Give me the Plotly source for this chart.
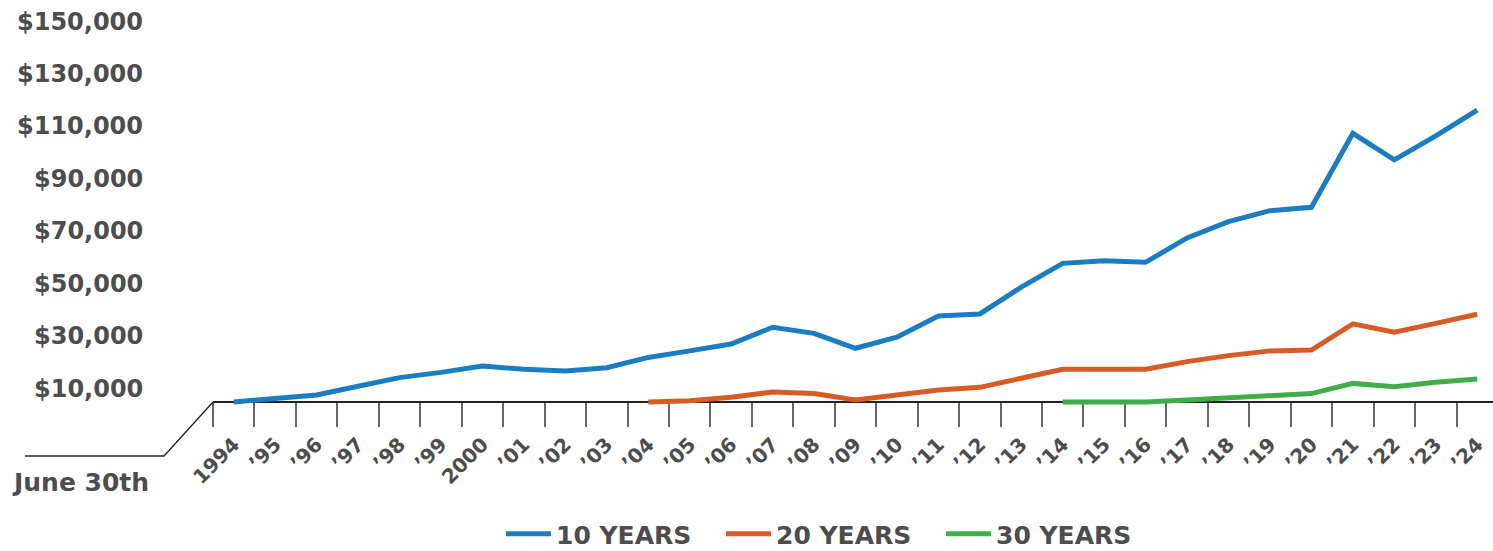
import plotly.graph_objects as go

# ---- data ----
years = ["1994", "’95", "’96", "’97", "’98", "’99", "2000", "’01", "’02", "’03",
         "’04", "’05", "’06", "’07", "’08", "’09", "’10", "’11", "’12", "’13",
         "’14", "’15", "’16", "’17", "’18", "’19", "’20", "’21", "’22", "’23", "’24"]

ten_years = [10000, 11300, 12700, 16000, 19300, 21300, 23700, 22500, 21800, 23100,
             27000, 29500, 32100, 38500, 36200, 30500, 34700, 42800, 43600, 53800,
             62900, 63900, 63300, 72600, 78800, 83000, 84300, 112500, 102400, 111500, 121400]

twenty_years = [10000, 10500, 11800, 13800, 13200, 10800, 12700, 14600, 15600, 19200,
                22500, 22500, 22500, 25400, 27700, 29500, 29800, 39800, 36600, 40000, 43500]

thirty_years = [10000, 10000, 10000, 10800, 11600, 12400, 13200, 17100, 15800, 17500, 18800]

series_names = ["10 YEARS", "20 YEARS", "30 YEARS"]
series_colors = ["#1a7cc1", "#d85a25", "#40ad49"]

y_tick_vals = [10000, 30000, 50000, 70000, 90000, 110000, 130000, 150000]
y_tick_text = ["$10,000", "$30,000", "$50,000", "$70,000", "$90,000", "$110,000", "$130,000", "$150,000"]

x_caption = "June 30th"

FONT = "DejaVu Sans"
TEXT = "#4d4d4d"

fig = go.Figure()
fig.add_trace(go.Scatter(x=years, y=ten_years, mode="lines", name=series_names[0],
                         line=dict(color=series_colors[0], width=5)))
fig.add_trace(go.Scatter(x=years[10:], y=twenty_years, mode="lines", name=series_names[1],
                         line=dict(color=series_colors[1], width=5)))
fig.add_trace(go.Scatter(x=years[20:], y=thirty_years, mode="lines", name=series_names[2],
                         line=dict(color=series_colors[2], width=5)))

W, H = 1493, 551
L = 213
plot_bottom_px = 440
axis_px = 402
px_per_unit = 2.621 / 1000.0
y_top = 10000 + axis_px / px_per_unit
y_bot = 10000 - (plot_bottom_px - axis_px) / px_per_unit
cat_px = 41.45

fig.update_layout(
    width=W, height=H, autosize=False,
    margin=dict(l=L, r=0, t=0, b=0, autoexpand=False),
    paper_bgcolor="white", plot_bgcolor="white",
    font=dict(family=FONT, color=TEXT, weight="bold"),
    showlegend=True,
    legend=dict(orientation="h", x=(501 - L) / (W - L), xanchor="left",
                y=-6 / H, yanchor="bottom",
                font=dict(size=25, color=TEXT, family=FONT, weight="bold"),
                itemwidth=45, entrywidth=160, entrywidthmode="pixels",
                bgcolor="rgba(0,0,0,0)"),
    xaxis=dict(
        type="category", categoryorder="array", categoryarray=years,
        range=[-0.5, -0.5 + (W - L) / cat_px],
        anchor="free", position=(H - axis_px) / H,
        showline=True, linecolor="#222222", linewidth=1.5,
        ticks="outside", ticklen=24, tickwidth=1.5, tickcolor="#666666",
        tickson="boundaries", tickangle=-45, ticklabelstandoff=22,
        tickfont=dict(size=20, color=TEXT, family=FONT, weight="bold"),
        showgrid=False, zeroline=False, layer="below traces",
    ),
    yaxis=dict(
        domain=[(H - plot_bottom_px) / H, 1],
        range=[y_bot, y_top],
        showticklabels=False, showgrid=False, zeroline=False, showline=False,
        ticks="",
    ),
)

# y tick labels (placed slightly above their values, as in the reference)
for v, t in zip(y_tick_vals, y_tick_text):
    fig.add_annotation(x=(145 - L) / (W - L), xref="paper", y=v, yref="y",
                       text=t, showarrow=False, xanchor="right", yanchor="middle",
                       yshift=13.5, font=dict(size=24, color=TEXT, family=FONT, weight="bold"))

# caption under the left offset
fig.add_annotation(x=(80 - L) / (W - L), xref="paper", y=(H - 482) / H, yref="paper",
                   text=x_caption, showarrow=False, xanchor="center", yanchor="middle",
                   font=dict(size=25, color=TEXT, family=FONT, weight="bold"))

# decorative leader line from axis start
def px_x(p):
    return (p - L) / (W - L)

def px_y(p):
    return (H - p) / H

fig.add_shape(type="path", xref="paper", yref="paper",
              path=f"M {px_x(213)} {px_y(402)} L {px_x(164)} {px_y(456)} L {px_x(25)} {px_y(456)}",
              line=dict(color="#222222", width=1.3))

fig.write_html("out.html", config={"responsive": False})
